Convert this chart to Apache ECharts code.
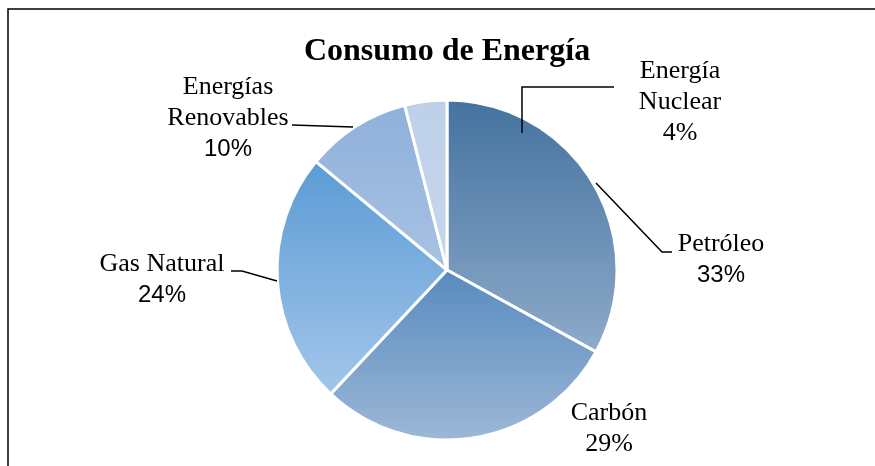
<!DOCTYPE html>
<html>
<head>
<meta charset="utf-8">
<script src="https://cdn.jsdelivr.net/npm/echarts@6/dist/echarts.min.js"></script>
<style>
	html,body{margin:0;padding:0;background:#fff;}
	#chart{width:875px;height:466px;}
</style>
</head>
<body>
<div id="chart"></div>
<script>
// data
var categories = ['Petróleo', 'Carbón', 'Gas Natural', 'Energías\nRenovables', 'Energía\nNuclear']
var values = [33, 29, 24, 10, 4]
// percent text uses sans for some labels, serif for others
var percentFont = ['sans', 'serif', 'sans', 'sans', 'serif']
// gradient top / bottom colour per slice
var colorsTop = ['#44729f', '#578abf', '#5b9bd5', '#8eb0da', '#bed0e9']
var colorsBottom = ['#8eabca', '#9db8d6', '#a3c6ea', '#a9c2e3', '#c6d6ec']
// label block centres (x, y)
var labelPos = [[721, 260], [609, 429], [162, 280], [228, 118], [680, 102]]
// leader lines as placed by hand in the original (null = no line)
var leaderLines = [
	[[596,183],[662,252],[672,252]],
	null,
	[[277,281],[242,271],[231,271]],
	[[353,127],[322,126],[292,125]],
	[[522,133],[522,87],[614,87]]
]

var serif = '"Liberation Serif", "Times New Roman", serif'
var sans = '"Liberation Sans", Arial, sans-serif'

var chart = echarts.init(document.getElementById('chart'))

var pieData = []
for(var i = 0 ; i < categories.length ; i ++){
	pieData.push({
		name:categories[i],
		value:values[i],
		itemStyle:{
			color:new echarts.graphic.LinearGradient(0,0,0,1,[
				{offset:0,color:colorsTop[i]},
				{offset:1,color:colorsBottom[i]}
			])
		},
		label:{
			formatter:'{n|{b}}\n{' + (percentFont[i] == 'sans' ? 'ps' : 'pr') + '|{c}%}'
		}
	})
}

var graphics = [{
	type:'rect',
	shape:{x:8,y:9,width:900,height:500},
	style:{fill:'none',stroke:'#000',lineWidth:1.5},
	silent:true
}]
for(var j = 0 ; j < leaderLines.length ; j ++){
	if(leaderLines[j]){
		graphics.push({
			type:'polyline',
			z:100,
			shape:{points:leaderLines[j]},
			style:{fill:'none',stroke:'#000',lineWidth:1.5},
			silent:true
		})
	}
}

chart.setOption({
	backgroundColor:'#fff',
	animation:false,
	title:{
		text:'Consumo de Energía',
		top:31,
		left:442,
		textAlign:'center',
		textStyle:{
			fontFamily:serif,
			fontWeight:'bold',
			fontSize:32,
			color:'#000'
		}
	},
	graphic:graphics,
	series:[{
		type:'pie',
		center:[447,270],
		radius:[0,170],
		startAngle:90,
		clockwise:true,
		itemStyle:{
			borderColor:'#fff',
			borderWidth:3
		},
		label:{
			show:true,
			position:'outside',
			align:'center',
			rich:{
				n:{fontFamily:serif,fontSize:26,lineHeight:31,color:'#000',align:'center'},
				ps:{fontFamily:sans,fontSize:24,lineHeight:31,color:'#000',align:'center'},
				pr:{fontFamily:serif,fontSize:26,lineHeight:31,color:'#000',align:'center'}
			}
		},
		labelLine:{show:false},
		labelLayout:function(params){
			var p = labelPos[params.dataIndex]
			return {
				x:p[0],
				y:p[1],
				align:'center',
				verticalAlign:'middle'
			}
		},
		emphasis:{disabled:true},
		data:pieData
	}]
})
</script>
</body>
</html>
